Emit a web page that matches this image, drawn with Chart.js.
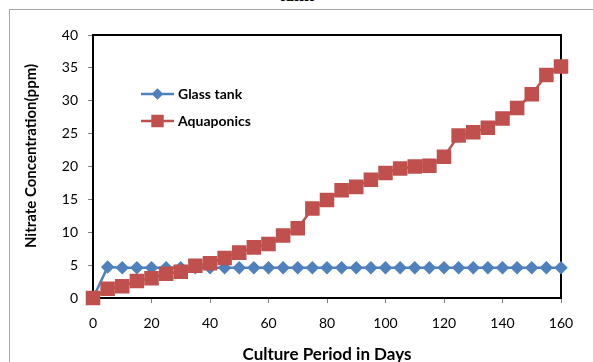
<!DOCTYPE html>
<html>
<head>
<meta charset="utf-8">
<script src="https://cdn.jsdelivr.net/npm/chart.js@4.4.1/dist/chart.umd.min.js"></script>
<style>
  html, body { margin: 0; padding: 0; background: #fff; overflow: hidden; }
  #wrap { position: relative; width: 593px; height: 362px; overflow: hidden; }
  #frame { position: absolute; left: 9px; top: 9px; width: 700px; height: 500px;
           border-left: 1px solid #a6a6a6; border-top: 1px solid #a6a6a6; }
  #cut { position: absolute; left: 0; top: -14px; width: 593px; text-align: center;
         font: bold 18px "Liberation Serif", serif; line-height: 18px; color: #000; }
  canvas { position: absolute; left: 0; top: 0; }
</style>
</head>
<body>
<div id="wrap">
  <div id="frame"></div>
  <div id="cut">tank</div>
  <canvas id="nitrateChart" width="593" height="362"></canvas>
</div>
<script>
    // values
    const days = [0, 5, 10, 15, 20, 25, 30, 35, 40, 45, 50, 55, 60, 65, 70, 75, 80,
                  85, 90, 95, 100, 105, 110, 115, 120, 125, 130, 135, 140, 145, 150, 155, 160];
    const glassTank = [0, 4.7, 4.6, 4.6, 4.6, 4.6, 4.6, 4.6, 4.6, 4.6, 4.6, 4.6, 4.6, 4.6, 4.6, 4.6, 4.6,
                       4.6, 4.6, 4.6, 4.6, 4.6, 4.6, 4.6, 4.6, 4.6, 4.6, 4.6, 4.6, 4.6, 4.6, 4.6, 4.6];
    const aquaponics = [0, 1.4, 1.8, 2.6, 3.0, 3.7, 4.0, 4.9, 5.3, 6.1, 6.9, 7.7, 8.2, 9.5, 10.6, 13.6, 14.9,
                        16.4, 16.9, 18.0, 19.0, 19.7, 20.0, 20.1, 21.5, 24.7, 25.2, 25.9, 27.3, 28.9, 31.0, 33.9, 35.2];
    const yTicks = [0, 5, 10, 15, 20, 25, 30, 35, 40];
    const xTicks = [0, 20, 40, 60, 80, 100, 120, 140, 160];

    const tickFont = { family: 'Lato', size: 14, weight: 'normal' };

    function toPoints(ys) {
        return days.map((d, i) => ({ x: d, y: ys[i] }));
    }

    // outer black frame round the plot area, drawn under the series
    const plotFrame = {
        id: 'plotFrame',
        beforeDatasetsDraw(chart) {
            const a = chart.chartArea;
            const ctx = chart.ctx;
            ctx.save();
            ctx.strokeStyle = '#000';
            ctx.lineWidth = 2;
            ctx.strokeRect(a.left, a.top, a.right - a.left, a.bottom - a.top);
            ctx.restore();
        }
    };

    // legend sitting inside the plot area, as in the picture
    const insideLegend = {
        id: 'insideLegend',
        afterDatasetsDraw(chart, args, opts) {
            const a = chart.chartArea;
            const ctx = chart.ctx;
            ctx.save();
            chart.data.datasets.forEach((ds, i) => {
                const y = a.top + opts.top + i * opts.rowGap;
                const x0 = a.left + opts.left;
                ctx.strokeStyle = ds.borderColor;
                ctx.lineWidth = ds.borderWidth;
                ctx.beginPath();
                ctx.moveTo(x0, y);
                ctx.lineTo(x0 + opts.lineLength, y);
                ctx.stroke();
                ctx.fillStyle = ds.pointBackgroundColor;
                ctx.strokeStyle = ds.pointBorderColor;
                Chart.helpers.drawPoint(ctx, {
                    pointStyle: ds.pointStyle,
                    radius: ds.legendRadius,
                    borderWidth: 1,
                    rotation: 0
                }, x0 + opts.lineLength / 2, y);
                ctx.fillStyle = '#000';
                ctx.font = 'bold 14px Lato';
                ctx.textAlign = 'left';
                ctx.textBaseline = 'middle';
                ctx.fillText(ds.label, x0 + opts.lineLength + 4, y);
            });
            ctx.restore();
        }
    };

    // axis captions, placed like the Excel original
    const axisCaptions = {
        id: 'axisCaptions',
        afterDraw(chart) {
            const a = chart.chartArea;
            const ctx = chart.ctx;
            ctx.save();
            ctx.fillStyle = '#000';
            ctx.textAlign = 'center';
            ctx.textBaseline = 'middle';
            ctx.font = 'bold 17px Lato';
            ctx.fillText('Culture Period in Days', (a.left + a.right) / 2, a.bottom + 57);
            ctx.translate(31, a.top + 121);
            ctx.rotate(-Math.PI / 2);
            ctx.font = 'bold 15px Lato';
            ctx.fillText('Nitrate Concentration(ppm)', 0, 0);
            ctx.restore();
        }
    };

    new Chart(document.getElementById('nitrateChart'), {
        type: 'line',
        plugins: [plotFrame, insideLegend, axisCaptions],
        data: {
            datasets: [{
                label: 'Glass tank',
                data: toPoints(glassTank),
                borderColor: '#4f81bd',
                backgroundColor: '#4f81bd',
                pointBackgroundColor: '#4f81bd',
                pointBorderColor: '#4f81bd',
                borderWidth: 2.5,
                pointStyle: 'rectRot',
                pointRadius: 5,
                legendRadius: 4,
                tension: 0,
                clip: false,
                order: 2
            }, {
                label: 'Aquaponics',
                data: toPoints(aquaponics),
                borderColor: '#c0504d',
                backgroundColor: '#c0504d',
                pointBackgroundColor: '#c0504d',
                pointBorderColor: '#c0504d',
                borderWidth: 2.5,
                pointStyle: 'rect',
                pointRadius: 8.5,
                legendRadius: 7,
                tension: 0,
                clip: false,
                order: 1
            }]
        },
        options: {
            responsive: false,
            animation: false,
            events: [],
            layout: { padding: { left: 0, right: 32, top: 35, bottom: 0 } },
            plugins: {
                legend: { display: false },
                tooltip: { enabled: false },
                insideLegend: { left: 48, top: 59, rowGap: 27, lineLength: 33 }
            },
            scales: {
                x: {
                    type: 'linear',
                    min: 0,
                    max: 160,
                    afterFit(scale) { scale.height = 64; },
                    afterBuildTicks(scale) { scale.ticks = xTicks.map(v => ({ value: v })); },
                    ticks: { color: '#000', font: tickFont, padding: 12, maxRotation: 0 },
                    grid: { drawOnChartArea: false, drawTicks: true, tickLength: 5, color: '#7f7f7f' },
                    border: { display: false }
                },
                y: {
                    min: 0,
                    max: 40,
                    afterFit(scale) { scale.width = 93; },
                    afterBuildTicks(scale) { scale.ticks = yTicks.map(v => ({ value: v })); },
                    ticks: { color: '#000', font: tickFont, padding: 10 },
                    grid: { drawOnChartArea: false, drawTicks: true, tickLength: 5, color: '#7f7f7f' },
                    border: { display: false }
                }
            }
        }
    });
</script>
</body>
</html>
